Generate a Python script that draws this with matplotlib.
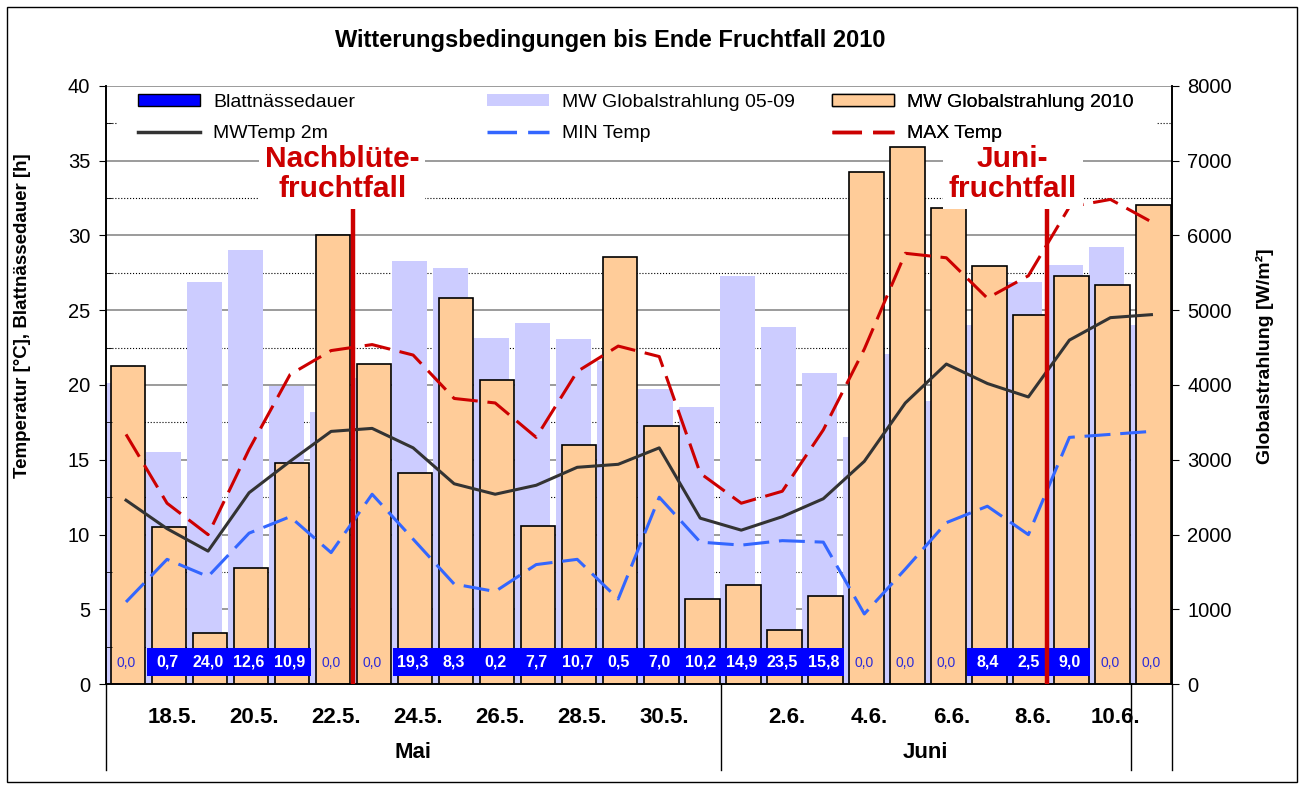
import matplotlib
matplotlib.use('Agg')
import matplotlib.pyplot as plt
import numpy as np
from matplotlib.patches import Patch, Rectangle
from matplotlib.lines import Line2D

plt.rcParams['font.family'] = ['Liberation Sans', 'DejaVu Sans']

# daily values 17.5. - 11.6.2010
days = ['17.5.', '18.5.', '19.5.', '20.5.', '21.5.', '22.5.', '23.5.', '24.5.',
        '25.5.', '26.5.', '27.5.', '28.5.', '29.5.', '30.5.', '31.5.',
        '1.6.', '2.6.', '3.6.', '4.6.', '5.6.', '6.6.', '7.6.', '8.6.', '9.6.',
        '10.6.', '11.6.']
blatt = [0.0, 0.7, 24.0, 12.6, 10.9, 0.0, 0.0, 19.3, 8.3, 0.2, 7.7, 10.7, 0.5,
         7.0, 10.2, 14.9, 23.5, 15.8, 0.0, 0.0, 0.0, 8.4, 2.5, 9.0, 0.0, 0.0]
glob_0509 = [4030, 3110, 5380, 5810, 3980, 3640, 4100, 5660, 5560, 4630, 4830,
             4620, 4320, 3950, 3700, 5460, 4770, 4160, 3310, 4420, 3790, 4800,
             5380, 5610, 5840, 4800]
glob_2010 = [4250, 2100, 680, 1550, 2960, 6010, 4280, 2820, 5160, 4070, 2120,
             3200, 5710, 3450, 1135, 1330, 725, 1180, 6850, 7180, 6360, 5590,
             4930, 5460, 5330, 6410]
t_mean = [12.3, 10.4, 8.9, 12.8, 14.9, 16.9, 17.1, 15.8, 13.4, 12.7, 13.3, 14.5,
          14.7, 15.8, 11.1, 10.3, 11.2, 12.4, 14.9, 18.8, 21.4, 20.1, 19.2, 23.0,
          24.5, 24.7]
t_min = [5.5, 8.35, 7.2, 10.1, 11.2, 8.8, 12.7, 9.7, 6.7, 6.2, 8.0, 8.35, 5.7,
         12.5, 9.5, 9.3, 9.6, 9.5, 4.7, 7.7, 10.8, 11.9, 10.0, 16.5, 16.7, 16.9]
t_max = [16.7, 12.1, 10.0, 15.7, 20.7, 22.3, 22.7, 22.0, 19.1, 18.8, 16.5, 20.9,
         22.6, 21.9, 14.1, 12.1, 12.9, 17.0, 22.4, 28.8, 28.5, 25.8, 27.3, 31.9,
         32.4, 30.9]
months = ['Mai', 'Juni', '']
month_len = [15, 10, 1]
events = [('Nachblüte-\nfruchtfall', 5.53, 5.27), ('Juni-\nfruchtfall', 22.46, 21.62)]

RED = '#CC0000'
BLUE = '#3366FF'
x = np.arange(len(days))

fig = plt.figure(figsize=(13.01, 7.89), dpi=100)
ax = fig.add_axes([0.0811, 0.1327, 0.8197, 0.7587])
ax2 = ax.twinx()
ax.set_zorder(2)
ax.patch.set_visible(False)
ax2.set_zorder(1)

# radiation bars (right axis)
ax2.set_ylim(0, 8000)
ax2.set_yticks(range(0, 8001, 1000))
ax2.set_yticks(range(500, 8000, 1000), minor=True)
ax2.set_axisbelow(True)
ax2.grid(which='major', axis='y', color='#808080', lw=1.1)
ax2.grid(which='minor', axis='y', color='black', ls=':', lw=0.8)
ax2.bar(x - 0.09, glob_0509, width=0.84, color='#CCCCFF', zorder=2)
ax2.bar(x + 0.05, glob_2010, width=0.84, color='#FFCC99', edgecolor='black',
        lw=1.2, zorder=3)
ax2.tick_params(axis='y', which='major', direction='out', length=5,
                labelsize=14.5, pad=6)
ax2.tick_params(axis='y', which='minor', length=0)

# temperatures (left axis)
ax.set_xlim(-0.5, len(days) - 0.5)
ax.set_ylim(0, 40)
ax.set_yticks(range(0, 41, 5))
ax.set_yticks(np.arange(2.5, 40, 5), minor=True)
ax.tick_params(axis='y', which='major', direction='out', length=5,
               labelsize=14.5, pad=6)
ax.tick_params(axis='y', which='minor', direction='in', length=4)

ax.plot(x, t_mean, color='#333333', lw=2.2, zorder=5)
ax.plot(x, t_min, color=BLUE, lw=2.2, ls=(0, (8.5, 3.2)), zorder=5)
ax.plot(x, t_max, color=RED, lw=2.2, ls=(0, (8.5, 3.2)), zorder=5)

# leaf wetness labels at the bottom
for i, v in enumerate(blatt):
    s = f'{v:.1f}'.replace('.', ',')
    if v > 0:
        ax.bar(i, 1.9, bottom=0.55, width=1.0, color='#0000FF', zorder=4)
        ax.text(i, 1.5, s, ha='center', va='center', color='white',
                fontsize=11.5, weight='bold', zorder=6)
    else:
        ax.text(i, 1.45, s, ha='center', va='center', color='#2B2BD9',
                fontsize=10, zorder=6)

# event markers
for label, xe, xt in events:
    ax.plot([xe, xe], [0, 31.8], color=RED, lw=3.2, zorder=6,
            solid_capstyle='butt')
    ax.text(xt, 34.1, label, ha='center', va='center', color=RED, fontsize=21.5,
            weight='bold', linespacing=1.1, zorder=8,
            bbox=dict(fc='white', ec='none', pad=4))

for a in (ax, ax2):
    a.spines['top'].set_visible(False)
    for s in ['left', 'right', 'bottom']:
        a.spines[s].set_linewidth(1.2)

# category axis with day and month labels
even = [i for i, d in enumerate(days) if int(d.split('.')[0]) % 2 == 0]
ax.set_xticks([i + 0.12 for i in even])
ax.set_xticklabels([days[i] for i in even], fontsize=16, weight='bold')
ax.tick_params(axis='x', length=0, pad=16)
tr = ax.get_xaxis_transform()
start = -0.5
for name, n in zip(months, month_len):
    ax.plot([start, start], [0, -0.143], color='black', lw=1, transform=tr,
            clip_on=False)
    ax.text(start + n / 2, -0.114, name, transform=tr, ha='center',
            va='center', fontsize=16, weight='bold')
    start += n
ax.plot([start, start], [0, -0.143], color='black', lw=1, transform=tr,
        clip_on=False)

# legend
ax.add_patch(Rectangle((0.0108, 0.904), 0.975, 0.092, transform=ax.transAxes,
                       fc='white', ec='none', zorder=7))
cols = [
    ([Patch(fc='#0000FF', ec='black'), Line2D([], [], color='#333333', lw=2.5)],
     ['Blattnässedauer', 'MWTemp 2m'], 0.0305),
    ([Patch(fc='#CCCCFF', ec='none'),
      Line2D([], [], color=BLUE, lw=2.5, ls=(0, (8.5, 3.2)))],
     ['MW Globalstrahlung 05-09', 'MIN Temp'], 0.3578),
    ([Patch(fc='#FFCC99', ec='black'),
      Line2D([], [], color=RED, lw=2.5, ls=(0, (8.5, 3.2)))],
     ['MW Globalstrahlung 2010', 'MAX Temp'], 0.6813),
]
for handles, labels, xl in cols:
    leg = ax.legend(handles, labels, loc='upper left',
                    bbox_to_anchor=(xl, 0.986), frameon=False, fontsize=14,
                    borderpad=0, borderaxespad=0, handlelength=3.2,
                    handleheight=0.6, handletextpad=0.65, labelspacing=0.72)
    leg.set_zorder(9)
    ax.add_artist(leg)

fig.text(0.469, 0.949, 'Witterungsbedingungen bis Ende Fruchtfall 2010',
         ha='center', va='center', fontsize=17, weight='bold')
fig.text(0.017, 0.60, 'Temperatur [°C], Blattnässedauer [h]', rotation=90,
         ha='center', va='center', fontsize=13.5, weight='bold')
fig.text(0.972, 0.549, 'Globalstrahlung [W/m²]', rotation=90,
         ha='center', va='center', fontsize=14, weight='bold')

fig.patches.append(Rectangle((0.0054, 0.009), 0.9915, 0.982,
                             transform=fig.transFigure, fill=False,
                             ec='black', lw=1))

fig.savefig('out.png', dpi=100, facecolor='white')
